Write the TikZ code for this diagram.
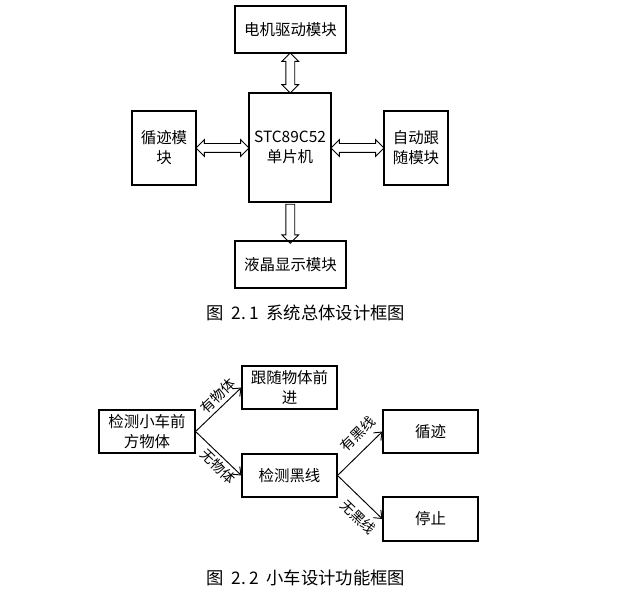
\documentclass[tikz,border=0pt]{standalone}
\usepackage{fontspec}
\setmainfont{Noto Sans CJK SC}
\usetikzlibrary{arrows.meta,calc,shapes.arrows}

\begin{document}
\begin{tikzpicture}[x=0.75pt,y=-0.75pt,>={Straight Barb[length=5pt,width=8pt]},
  box/.style={draw,line width=0.8pt,align=center,inner sep=0pt,font=\fontsize{11.6}{15}\selectfont},
  dblarrow/.style={draw,line width=0.7pt,double arrow,inner xsep=0pt,inner ysep=3pt,double arrow head extend=2.9pt},
  sglarrow/.style={draw,line width=0.7pt,single arrow,inner xsep=0pt,inner ysep=3pt,single arrow head extend=2.9pt},
  lbl/.style={font=\fontsize{10.5}{12}\selectfont,sloped,inner sep=1pt},
  figcap/.style={font=\fontsize{13}{15}\selectfont}]
  \useasboundingbox (0,0) rectangle (620,609);
  % system block diagram
  \node[box,minimum width=83.25pt,minimum height=35.25pt] (motor) at (290.5,29.5) {电机驱动模块};
  \node[box,minimum width=61.5pt,minimum height=81.75pt] (mcu) at (290,147.5) {STC89C52\\单片机};
  \node[box,minimum width=48pt,minimum height=55.5pt] (track) at (164,148) {循迹模\\块};
  \node[box,minimum width=48pt,minimum height=55.5pt] (follow) at (416,148) {自动跟\\随模块};
  \node[box,minimum width=83.25pt,minimum height=35.25pt] (lcd) at (290.5,264.5) {液晶显示模块};
  \node[dblarrow,rotate=90,minimum height=30pt] (a1) at ($(motor.south)!0.5!(mcu.north)$) {};
  \node[dblarrow,minimum height=39.75pt] (a2) at ($(track.east)!0.5!(track.east-|mcu.west)$) {};
  \node[dblarrow,minimum height=39.75pt] (a3) at ($(follow.west)!0.5!(follow.west-|mcu.east)$) {};
  \node[sglarrow,rotate=-90,minimum height=29.25pt] (a4) at ($(mcu.south)!0.5!(lcd.north)$) {};
  \node[figcap] (cap1) at (306,313) {图\hspace{0.45em}2.\hspace{0.15em}1\hspace{0.45em}系统总体设计框图};
  % car function diagram
  \node[box,minimum width=72pt,minimum height=32.25pt] (detect) at (147,431.5) {检测小车前\\方物体};
  \node[box,minimum width=71.25pt,minimum height=32.25pt] (go) at (289.5,387.5) {跟随物体前\\进};
  \node[box,minimum width=71.25pt,minimum height=32.25pt] (line) at (289.5,475.5) {检测黑线};
  \node[box,minimum width=71.25pt,minimum height=32.25pt] (xunji) at (430.5,431.5) {循迹};
  \node[box,minimum width=71.25pt,minimum height=33pt] (stop) at (430.5,519) {停止};
  \draw[->,line width=0.7pt] (detect.east) -- node[lbl,above=1.5pt,pos=0.64] {有物体} (go.west);
  \draw[->,line width=0.7pt] (detect.east) -- node[lbl,below=1pt,pos=0.64] {无物体} (line.west);
  \draw[->,line width=0.7pt] (line.east) -- node[lbl,above=5.5pt,pos=0.7] {有黑线} (xunji.west);
  \draw[->,line width=0.7pt] (line.east) -- node[lbl,below=5.5pt,pos=0.7] {无黑线} (stop.west);
  \node[figcap] (cap2) at (306,578) {图\hspace{0.45em}2.\hspace{0.15em}2\hspace{0.45em}小车设计功能框图};
\end{tikzpicture}
\end{document}
